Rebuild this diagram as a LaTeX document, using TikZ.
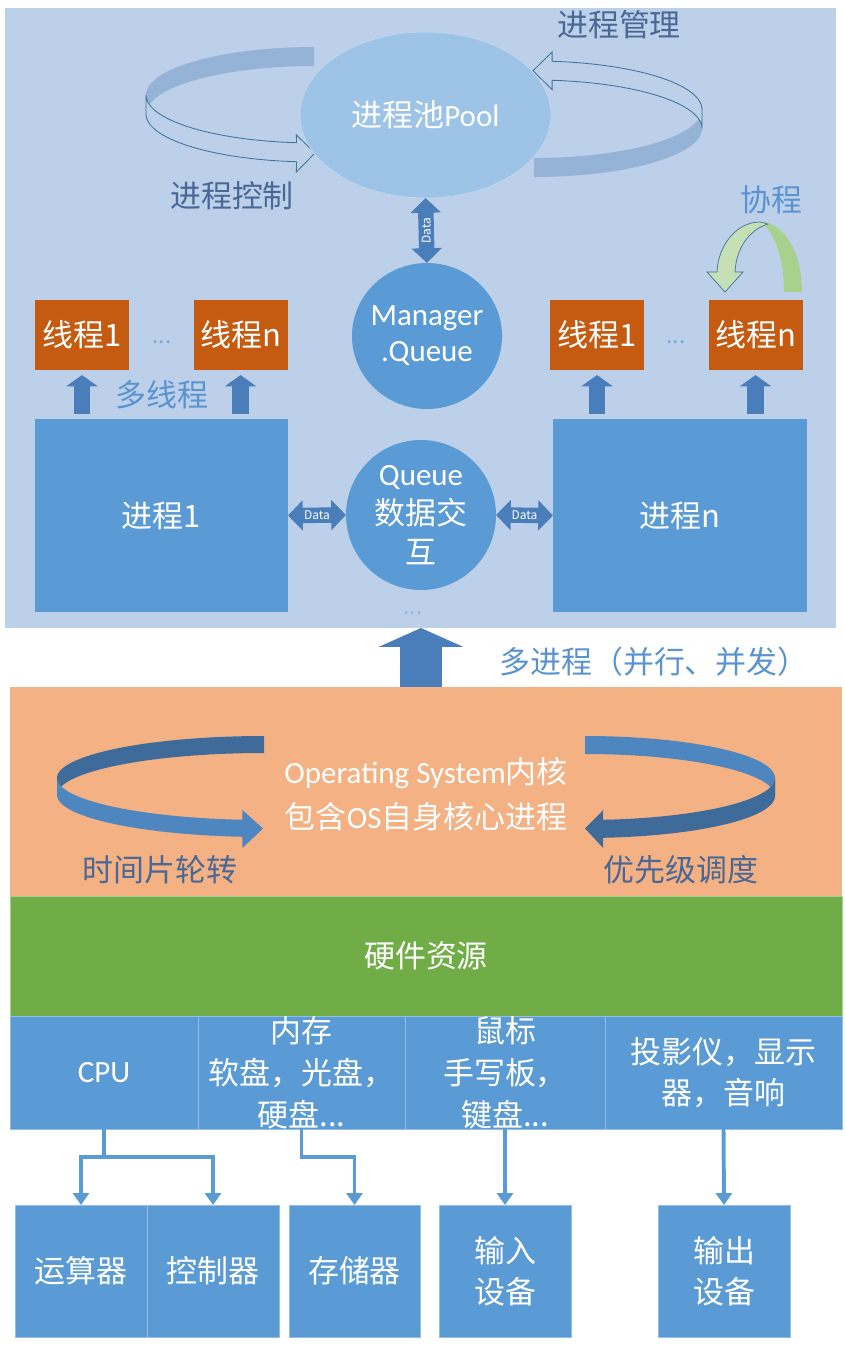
\documentclass[tikz,border=0pt]{standalone}
\usepackage{fontspec}
\setmainfont{Noto Sans CJK SC}
\newfontfamily\lat{Carlito}
\usepackage{tikz}
\usetikzlibrary{arrows.meta, positioning, shapes.geometric}

\definecolor{panelbg}{HTML}{BDD0E9}
\definecolor{poolfill}{HTML}{9DC3E6}
\definecolor{boxblue}{HTML}{5B9BD5}
\definecolor{arrowblue}{HTML}{4A7EBB}
\definecolor{threadorange}{HTML}{C55A11}
\definecolor{oslayer}{HTML}{F4B183}
\definecolor{hwgreen}{HTML}{70AD47}
\definecolor{labelgray}{HTML}{4A6895}
\definecolor{labelblue}{HTML}{5B93D0}
\definecolor{ribbonback}{HTML}{95B3D7}
\definecolor{ribbonline}{HTML}{41719C}
\definecolor{osdark}{HTML}{3E6B99}
\definecolor{oslight}{HTML}{4E86BF}
\definecolor{greendark}{HTML}{A9D18E}
\definecolor{greenlight}{HTML}{C5E0B4}

\newcommand{\pxu}{0.025cm}

\begin{document}
\begin{tikzpicture}[x=\pxu, y=-\pxu,
    font=\fontsize{22}{29}\selectfont,
    every node/.style={inner sep=0pt, outer sep=0pt},
    bluebox/.style={rectangle, fill=boxblue, draw=white!35!boxblue, line width=0.6pt, text=white, align=center},
    threadbox/.style={rectangle, fill=threadorange, text=white, minimum width=94*\pxu, minimum height=70*\pxu},
    bluecirc/.style={ellipse, fill=boxblue},
    blockup/.style={arrowblue, line width=11.4pt, -{Triangle[width=22pt, length=8pt]}, shorten <=3.6pt, shorten >=3.6pt},
    dataarrow/.style={arrowblue, line width=11pt, {Triangle[width=21pt, length=10.5pt]}-{Triangle[width=21pt, length=10.5pt]}},
    datatext/.style={text=white, font=\fontsize{8.5}{9}\selectfont},
    bigup/.style={arrowblue, line width=29.9pt, -{Triangle[width=60pt, length=13.5pt]}},
    link/.style={boxblue, line width=2.8pt, -{Triangle[width=11.4pt, length=8.5pt]}},
    dots/.style={text=boxblue!85!white, font=\fontsize{16}{16}\selectfont},
    ribbonedge/.style={ribbonline, line width=0.6pt, fill=panelbg},
  ]
  \useasboundingbox (0,0) rectangle (845,1345);

  % 1. 上层面板
  \node[fill=panelbg, minimum width=831*\pxu, minimum height=620*\pxu] (panel) at (420.5,318) {};

  % 2. 进程池与环形箭头
  \fill[ribbonback] plot[domain=90:180, samples=30] ({314+168*cos(\x)},{95-48*sin(\x)})
    -- plot[domain=180:90, samples=30] ({314+168*cos(\x)},{114-48*sin(\x)}) -- cycle;
  \draw[ribbonedge] plot[domain=180:264, samples=30] ({314+168*cos(\x)},{95-48*sin(\x)})
    -- (296.4,135) -- (315,153) -- (296.4,172)
    -- plot[domain=264:180, samples=30] ({314+168*cos(\x)},{114-48*sin(\x)}) -- cycle;
  \fill[ribbonback] plot[domain=-90:0, samples=30] ({534+168*cos(\x)},{109.5-48.5*sin(\x)})
    -- plot[domain=0:-90, samples=30] ({534+168*cos(\x)},{128.5-48.5*sin(\x)}) -- cycle;
  \draw[ribbonedge] plot[domain=0:83.8, samples=30] ({534+168*cos(\x)},{109.5-48.5*sin(\x)})
    -- (552.1,52) -- (533,70.8) -- (552.1,89.6)
    -- plot[domain=83.8:0, samples=30] ({534+168*cos(\x)},{128.5-48.5*sin(\x)}) -- cycle;

  \node[ellipse, fill=poolfill, draw=white!40!poolfill, minimum width=251*\pxu, minimum height=166*\pxu] (pool) at (425.5,115) {};
  \node[text=white] (pooltext) at (pool) {进程池{\lat Pool}};
  \node[text=labelgray] (mgmt) at (619,25) {进程管理};
  \node[text=labelgray] (ctrl) at (232,196) {进程控制};

  % 3. Manager.Queue
  \node[bluecirc, minimum width=150*\pxu, minimum height=146*\pxu] (mgr) at (427,336) {};
  \node[text=white, align=center, font=\lat\fontsize{22}{25.6}\selectfont] (mgrtext) at (mgr) {Manager\\.Queue};
  \draw[dataarrow] (pool.south) -- (mgr.north) node[midway, datatext, rotate=90] (d0) {Data};

  % 4. 线程
  \node[threadbox] (t1l) at (82,335) {线程1};
  \node[threadbox] (tnl) at (240.5,335) {线程n};
  \node[threadbox] (t1r) at (597,335) {线程1};
  \node[threadbox] (tnr) at (755.5,335) {线程n};
  \node[dots] (dotl) at (162,342) {...};
  \node[dots] (dotr) at (676,342) {...};

  % 5. 进程与 Queue
  \node[bluebox, draw=none, minimum width=253*\pxu, minimum height=193*\pxu] (p1) at (161.5,515.5) {进程1};
  \node[bluebox, draw=none, minimum width=254*\pxu, minimum height=193*\pxu] (pn) at (680,515.5) {进程n};
  \node[bluecirc, minimum width=150*\pxu, minimum height=150*\pxu] (queue) at (421,515) {};
  \node[text=white, align=center, font=\fontsize{22}{27.7}\selectfont] (queuetext) at (queue) {{\lat Queue}\\数据交\\互};
  \node[dots, text=white!30!boxblue] (dotq) at (413,613) {...};

  \foreach \t/\p in {t1l/p1, tnl/p1, t1r/pn, tnr/pn}
    \draw[blockup] (\t.south |- \p.north) -- (\t.south);
  \draw[dataarrow] (p1.east) -- (queue.west) node[midway, datatext] (d1) {Data};
  \draw[dataarrow] (queue.east) -- (pn.west) node[midway, datatext] (d2) {Data};

  \node[text=labelblue] (multi) at (162,395) {多线程};
  \node[text=labelblue] (coro) at (771,200) {协程};

  % 协程箭头
  \fill[greendark] (760,222) .. controls (784,222) and (802,252) .. (802,292)
    -- (784,292) .. controls (784,262) and (776,232) .. (760,222) -- cycle;
  \draw[ribbonline, line width=0.5pt, fill=greenlight] (760,222) .. controls (736,222) and (718,246) .. (717,272)
    -- (707,272) -- (725,292) -- (743,272) -- (735,272)
    .. controls (736,250) and (748,230) .. (768,224) -- cycle;

  % 6. 操作系统层
  \node[fill=oslayer, minimum width=832*\pxu, minimum height=209*\pxu] (os) at (426,791.5) {};
  \draw[bigup] (os.north -| queue.center) -- (panel.south -| queue.center);
  \node[text=labelblue] (multiproc) at (654,662) {多进程（并行、并发）};

  \fill[osdark] plot[domain=90:180, samples=30] ({264+207*cos(\x)},{778-42*sin(\x)})
    -- plot[domain=180:90, samples=30] ({264+207*cos(\x)},{795-42*sin(\x)}) -- cycle;
  \fill[oslight] plot[domain=180:264, samples=30] ({264+207*cos(\x)},{778-42*sin(\x)})
    -- (242.4,810) -- (263,828.5) -- (242.4,848)
    -- plot[domain=264:180, samples=30] ({264+207*cos(\x)},{795-42*sin(\x)}) -- cycle;
  \fill[oslight] plot[domain=90:0, samples=30] ({585+190*cos(\x)},{778-42*sin(\x)})
    -- plot[domain=0:90, samples=30] ({585+190*cos(\x)},{796-42*sin(\x)}) -- cycle;
  \fill[osdark] plot[domain=0:-84.5, samples=30] ({585+190*cos(\x)},{778-42*sin(\x)})
    -- (603.2,810) -- (585,828.5) -- (603.2,848)
    -- plot[domain=-84.5:0, samples=30] ({585+190*cos(\x)},{796-42*sin(\x)}) -- cycle;

  \node[text=white, align=center, font=\fontsize{22}{32}\selectfont] (kernel) at (426,794)
    {{\lat Operating System}内核\\包含{\lat OS}自身核心进程};
  \node[text=labelgray] (roundrobin) at (160,870) {时间片轮转};
  \node[text=labelgray] (priority) at (681,870) {优先级调度};

  % 7. 硬件资源
  \node[fill=hwgreen, draw=white!40!hwgreen, line width=0.6pt, text=white, minimum width=832*\pxu, minimum height=120*\pxu] (hw) at (426,956) {硬件资源};
  \node[bluebox, minimum width=188*\pxu, minimum height=113*\pxu] (cpu) at (104,1072.5) {{\lat CPU}};
  \node[bluebox, minimum width=207*\pxu, minimum height=113*\pxu] (mem) at (301.5,1072.5) {};
  \node[bluebox, minimum width=200*\pxu, minimum height=113*\pxu] (inp) at (505,1072.5) {};
  \node[bluebox, minimum width=237*\pxu, minimum height=113*\pxu] (out) at (723.5,1072.5) {投影仪，显示\\器，音响};
  \node[text=white, align=center, font=\fontsize{22}{30}\selectfont] (memtext) at (mem) {内存\\软盘，光盘，\\硬盘...};
  \node[text=white, align=center, font=\fontsize{22}{30}\selectfont] (inptext) at (inp) {鼠标\\手写板，\\键盘...};

  % 8. 设备
  \node[bluebox, minimum width=132*\pxu, minimum height=132*\pxu] (alu) at (81,1271) {运算器};
  \node[bluebox, minimum width=132*\pxu, minimum height=132*\pxu] (ctl) at (213,1271) {控制器};
  \node[bluebox, minimum width=131*\pxu, minimum height=132*\pxu] (sto) at (354.5,1271) {存储器};
  \node[bluebox, minimum width=132*\pxu, minimum height=132*\pxu] (indev) at (505,1271) {输入\\设备};
  \node[bluebox, minimum width=132*\pxu, minimum height=132*\pxu] (outdev) at (724,1271) {输出\\设备};

  \draw[link] (cpu.south) -- ++(0,28) -| (alu.north);
  \draw[link] (cpu.south) -- ++(0,28) -| (ctl.north);
  \draw[link] (mem.south) -- ++(0,28) -| (sto.north);
  \draw[link] (inp.south) -- (indev.north);
  \draw[link] (out.south) -- (outdev.north);
\end{tikzpicture}
\end{document}
